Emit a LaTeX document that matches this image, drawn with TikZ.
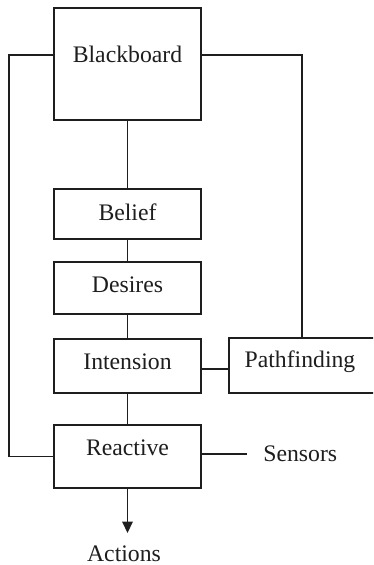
\documentclass[tikz,border=0pt]{standalone}
\usepackage{fontspec}
\setmainfont{Liberation Serif}
\usepackage{tikz}
\usetikzlibrary{arrows.meta, positioning, calc}
\definecolor{mydark}{RGB}{30,30,30}
\tikzset{
  box/.style={rectangle, draw=mydark, fill=white, minimum width=2.94cm,
    inner sep=0pt, line width=0.8pt},
  lbl/.style={font=\fontsize{13.5}{15}\selectfont, text=mydark, inner sep=0pt},
  line/.style={line width=0.8pt, color=mydark},
  arrow/.style={-{Triangle[width=6pt,length=6.5pt]}, line width=0.8pt, color=mydark}
}
\begin{document}
\begin{tikzpicture}[x=0.02cm, y=-0.02cm]
  \useasboundingbox (0,0) rectangle (373,565);
  \clip (0,0) rectangle (373,565);

  % Nodes
  \node[box, minimum height=2.24cm, label={[lbl, yshift=0.2cm]center:Blackboard}] (bb) at (127.5,64) {};
  \node[box, minimum height=1.00cm, label={[lbl, yshift=0.04cm]center:Belief}] (belief) at (127.5,214) {};
  \node[box, minimum height=1.04cm, label={[lbl, yshift=0.06cm]center:Desires}] (desires) at (127.5,288) {};
  \node[box, minimum height=1.08cm, label={[lbl, yshift=0.08cm]center:Intension}] (intension) at (127.5,366) {};
  \node[box, minimum height=1.26cm, label={[lbl, yshift=0.17cm]center:Reactive}] (reactive) at (127.5,456.5) {};
  \node[box, minimum width=3.02cm, minimum height=1.1cm] (path) at (304.5,365.5) {};
  \node[lbl] (pathtxt) at (300,362) {Pathfinding};
  \node[lbl, anchor=west] (sensors) at (263,454) {Sensors};
  \node[lbl, anchor=north] (actions) at (124,545) {Actions};

  % Chain
  \draw[line] (bb.south) -- (belief.north);
  \draw[line] (belief.south) -- (desires.north);
  \draw[line] (desires.south) -- (intension.north);
  \draw[line] (intension.south) -- (reactive.north);

  % Blackboard links
  \coordinate (lt) at (9,55);
  \coordinate (lb) at (9,456.5);
  \coordinate (rt) at (302,55);
  \draw[line] (bb.west |- lt) -- (lt) -- (lb) -- (reactive.west);
  \draw[line] (bb.east |- rt) -- (rt) -- (rt |- path.north);

  % Side links
  \coordinate (tip) at (127.5,533);
  \draw[line] ([yshift=-0.06cm]intension.east) -- ([yshift=-0.06cm]intension.east -| path.west);
  \draw[line] ([yshift=0.05cm]reactive.east) -- ([yshift=0.05cm]reactive.east -| 247,0);
  \draw[arrow] (reactive.south) -- (tip);
\end{tikzpicture}
\end{document}
